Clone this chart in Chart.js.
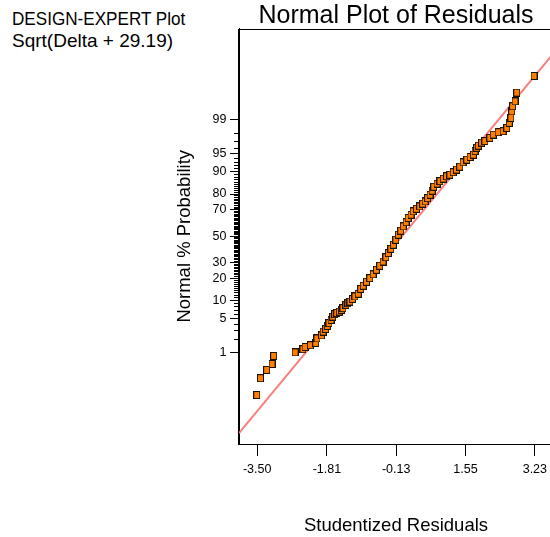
<!DOCTYPE html>
<html>
<head>
<meta charset="utf-8">
<script src="https://cdn.jsdelivr.net/npm/chart.js@4"></script>
<style>
  html, body { margin: 0; padding: 0; background: #fff; overflow: hidden; }
  body { width: 550px; height: 537px; position: relative; }
  #plot { position: absolute; left: 0; top: 0; }
  .note { position: absolute; left: 12px; font-family: "Liberation Sans", Arial, sans-serif; font-size: 19px; line-height: 1; color: #000; white-space: nowrap; transform-origin: 0 0; }
</style>
</head>
<body>
<div class="note" style="top:9px; transform: scaleX(0.9)">DESIGN-EXPERT Plot</div>
<div class="note" style="top:31px">Sqrt(Delta + 29.19)</div>
<canvas id="plot" width="560" height="537"></canvas>
<script>
// studentized residuals (sorted) and their normal % probability
const residuals = [-3.51, -3.42, -3.27, -3.14, -3.10, -2.58, -2.39, -2.34, -2.21, -2.08,
  -2.05, -1.94, -1.90, -1.84, -1.80, -1.76, -1.71, -1.67, -1.62, -1.57,
  -1.51, -1.46, -1.42, -1.35, -1.30, -1.25, -1.19, -1.13, -1.05, -0.99,
  -0.93, -0.85, -0.77, -0.69, -0.61, -0.53, -0.45, -0.38, -0.32, -0.26,
  -0.20, -0.14, -0.08, -0.02, 0.04, 0.11, 0.16, 0.23, 0.28, 0.36,
  0.44, 0.51, 0.57, 0.63, 0.69, 0.74, 0.78, 0.86, 0.93, 1.01,
  1.09, 1.17, 1.25, 1.33, 1.41, 1.49, 1.58, 1.66, 1.74, 1.78,
  1.82, 1.86, 1.94, 2.02, 2.14, 2.22, 2.34, 2.46, 2.55, 2.61,
  2.65, 2.67, 2.69, 2.75, 2.79, 3.21];
const probPct = [0.078, 0.233, 0.385, 0.546, 0.854, 1.03, 1.22, 1.37, 1.49, 1.68,
  2.09, 2.41, 2.87, 3.24, 3.70, 4.16, 4.78, 5.47, 6.02, 6.34,
  6.67, 7.12, 7.59, 8.58, 9.12, 9.66, 10.6, 11.5, 12.6, 14.7,
  16.2, 18.2, 20.2, 22.4, 25.2, 27.8, 30.7, 33.8, 36.9, 40.1,
  43.3, 47.2, 51.2, 54.4, 57.8, 61.0, 64.2, 66.6, 69.0, 70.8,
  72.4, 74.2, 75.6, 77.6, 79.6, 81.8, 83.8, 85.3, 86.4, 87.45,
  88.4, 89.0, 89.9, 90.8, 91.7, 92.96, 93.66, 94.3, 94.8, 95.5,
  96.1, 96.45, 96.9, 97.1, 97.5, 97.86, 98.09, 98.18, 98.46, 98.81,
  99.08, 99.36, 99.52, 99.64, 99.79, 99.93];

// reference line end points
const fitX = [-3.94, 3.67];
const fitPct = [0.0044, 99.986];

const xTicks = [-3.50, -1.81, -0.13, 1.55, 3.23];
const yTickPct = [1, 5, 10, 20, 30, 50, 70, 80, 90, 95, 99];
const yMinorPct = [];
for (let p = 2; p <= 98; p++) if (!yTickPct.includes(p)) yMinorPct.push(p);

const FONT = '"Liberation Sans", Arial, sans-serif';

// inverse normal cdf (Acklam) -> probability axis is linear in z
function probit(pct) {
  const p = pct / 100;
  const a = [-3.969683028665376e+01, 2.209460984245205e+02, -2.759285104469687e+02, 1.383577518672690e+02, -3.066479806614716e+01, 2.506628277459239e+00];
  const b = [-5.447609879822406e+01, 1.615858368580409e+02, -1.556989798598866e+02, 6.680131188771972e+01, -1.328068155288572e+01];
  const c = [-7.784894002430293e-03, -3.223964580411365e-01, -2.400758277161838e+00, -2.549732539343734e+00, 4.374664141464968e+00, 2.938163982698783e+00];
  const d = [7.784695709041462e-03, 3.224671290700398e-01, 2.445134137142996e+00, 3.754408661907416e+00];
  const lo = 0.02425;
  let q, r;
  if (p < lo) {
    q = Math.sqrt(-2 * Math.log(p));
    return (((((c[0]*q+c[1])*q+c[2])*q+c[3])*q+c[4])*q+c[5]) / ((((d[0]*q+d[1])*q+d[2])*q+d[3])*q+1);
  }
  if (p > 1 - lo) {
    q = Math.sqrt(-2 * Math.log(1 - p));
    return -(((((c[0]*q+c[1])*q+c[2])*q+c[3])*q+c[4])*q+c[5]) / ((((d[0]*q+d[1])*q+d[2])*q+d[3])*q+1);
  }
  q = p - 0.5; r = q * q;
  return (((((a[0]*r+a[1])*r+a[2])*r+a[3])*r+a[4])*r+a[5])*q / (((((b[0]*r+b[1])*r+b[2])*r+b[3])*r+b[4])*r+1);
}

// orange square marker with dark edge
const marker = document.createElement('canvas');
marker.width = 7; marker.height = 8;
const mctx = marker.getContext('2d');
mctx.fillStyle = '#1c1208';
mctx.fillRect(0, 0, 7, 8);
mctx.fillStyle = '#ff8000';
mctx.fillRect(1, 1, 5, 6);

// top and right edges of the plot box
const frame = {
  id: 'frame',
  afterDraw(chart) {
    const { ctx, chartArea: a } = chart;
    ctx.save();
    ctx.strokeStyle = '#000';
    ctx.lineWidth = 1;
    const l = Math.round(a.left) - 0.5, t = Math.round(a.top) + 0.5;
    const r = Math.round(a.right) - 0.5, b = Math.round(a.bottom) + 0.5;
    ctx.strokeRect(l, t, r - l, b - t);
    ctx.restore();
  }
};

new Chart(document.getElementById('plot'), {
  type: 'scatter',
  data: {
    datasets: [
      {
        data: residuals.map((x, i) => ({ x: x, y: probit(probPct[i]) })),
        pointStyle: marker,
        pointRadius: 4,
        pointHoverRadius: 4
      },
      {
        data: fitX.map((x, i) => ({ x: x, y: probit(fitPct[i]) })),
        showLine: true,
        borderColor: '#f88080',
        borderWidth: 2,
        pointRadius: 0
      }
    ]
  },
  options: {
    responsive: false,
    animation: false,
    layout: { padding: { left: 0, right: 7, top: 0, bottom: 0 } },
    plugins: {
      legend: { display: false },
      tooltip: { enabled: false },
      title: {
        display: true,
        text: 'Normal Plot of Residuals',
        fullSize: false,
        color: '#000',
        font: { family: FONT, size: 25, weight: 'normal', lineHeight: 1 },
        padding: { top: 3.5, bottom: 0 }
      }
    },
    scales: {
      x: {
        type: 'linear',
        min: -3.94,
        max: 3.67,
        afterBuildTicks: s => { s.ticks = xTicks.map(v => ({ value: v })); },
        afterFit: s => { s.height = 93; },
        ticks: {
          autoSkip: false,
          maxRotation: 0,
          padding: 6,
          color: '#000',
          font: { family: FONT, size: 12.5 },
          callback: v => v.toFixed(2)
        },
        grid: { drawOnChartArea: false, tickLength: 12, color: '#000', lineWidth: 1 },
        border: { display: true, color: '#000', width: 1 },
        title: {
          display: true,
          text: 'Studentized Residuals',
          color: '#000',
          font: { family: FONT, size: 18.5 },
          padding: { top: 0, bottom: 0 }
        }
      },
      // short minor ticks every 1 %
      yMinor: {
        type: 'linear',
        position: 'left',
        weight: 0,
        min: -4.14,
        max: 4.14,
        afterBuildTicks: s => { s.ticks = yMinorPct.map(p => ({ value: probit(p) })); },
        afterFit: s => { s.width = 0; },
        ticks: { display: false, autoSkip: false },
        grid: { drawOnChartArea: false, tickLength: 5, color: '#000', lineWidth: 1 },
        border: { display: false }
      },
      y: {
        type: 'linear',
        position: 'left',
        weight: 1,
        min: -4.14,
        max: 4.14,
        afterBuildTicks: s => { s.ticks = yTickPct.map(p => ({ value: probit(p) })); },
        afterFit: s => { s.width = 239; },
        ticks: {
          autoSkip: false,
          padding: 3.5,
          color: '#000',
          font: { family: FONT, size: 12.5 },
          callback: (v, i) => String(yTickPct[i])
        },
        grid: { drawOnChartArea: false, tickLength: 9, color: '#000', lineWidth: 1 },
        border: { display: true, color: '#000', width: 1 },
        title: {
          display: true,
          text: 'Normal % Probability',
          color: '#000',
          font: { family: FONT, size: 18.5 },
          padding: { top: 173.4, bottom: 0 }
        }
      }
    }
  },
  plugins: [frame]
});
</script>
</body>
</html>
